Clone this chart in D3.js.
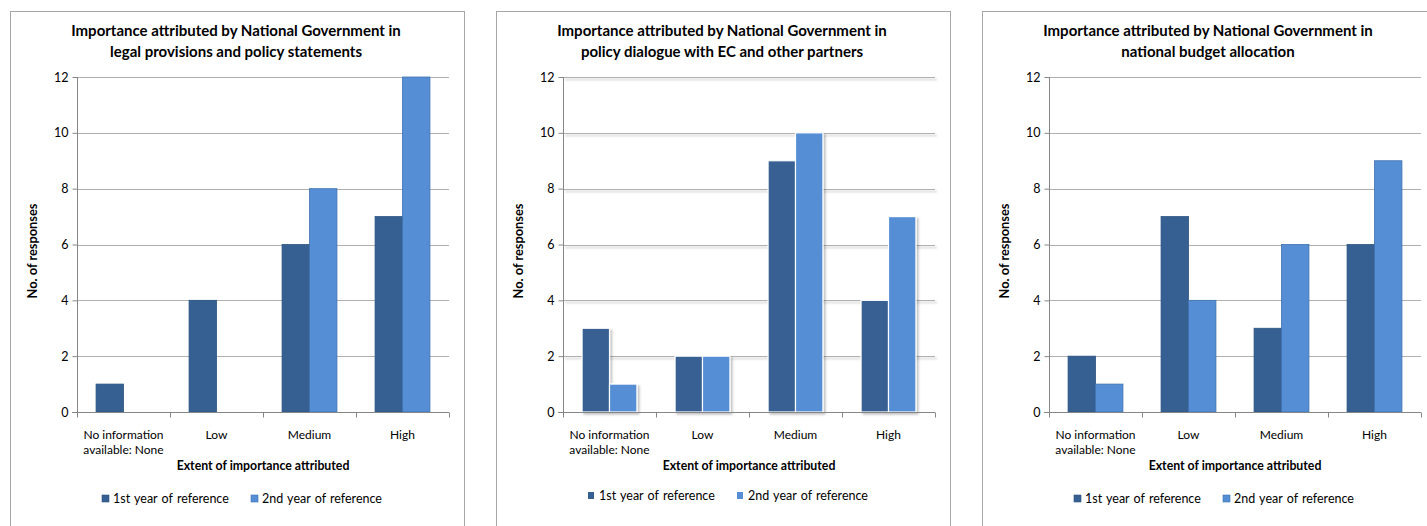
<!DOCTYPE html>
<html><head><meta charset="utf-8">
<script src="https://cdn.jsdelivr.net/npm/d3@7"></script>
<style>body{margin:0;background:#fff;} svg{display:block;font-family:Lato, "Open Sans", sans-serif;}</style>
</head><body>
<svg id="c" width="1427" height="526"></svg>
<script>
const categories = [["No information","available: None"],["Low"],["Medium"],["High"]];
const catKeys = ["No information available: None","Low","Medium","High"];
const seriesNames = ["1st year of reference","2nd year of reference"];
const titles = [
  ["Importance attributed by National Government in","legal provisions and policy statements"],
  ["Importance attributed by National Government in","policy dialogue with EC and other partners"],
  ["Importance attributed by National Government in","national budget allocation"]
];
const legalFirst = [1,4,6,7];
const legalSecond = [0,0,8,12];
const dialogueFirst = [3,2,9,4];
const dialogueSecond = [1,2,10,7];
const budgetFirst = [2,7,3,6];
const budgetSecond = [1,4,6,9];
const yTicks = [0,2,4,6,8,10,12];
const xTitle = "Extent of importance attributed";
const yTitle = "No. of responses";

const panels = [
  {title:titles[0], s:[legalFirst, legalSecond], shadow:false},
  {title:titles[1], s:[dialogueFirst, dialogueSecond], shadow:true},
  {title:titles[2], s:[budgetFirst, budgetSecond], shadow:false}
];
const colors = ["#376092","#558ED5"];
const strokes = ["#2c5482","#3f72b0"];

const svg = d3.select("#c");
const defs = svg.append("defs");
const f = defs.append("filter").attr("id","sh").attr("x","-20%").attr("y","-20%").attr("width","150%").attr("height","150%");
f.append("feDropShadow").attr("dx",2).attr("dy",2).attr("stdDeviation",1.2).attr("flood-color","#000").attr("flood-opacity",0.25);

panels.forEach((p,i)=>{
  const ox = 486*i;
  const g = svg.append("g").attr("transform",`translate(${ox},0)`);
  g.append("rect").attr("x",10.5).attr("y",11.5).attr("width",454).attr("height",530)
    .attr("fill","#fff").attr("stroke","#a6a6a6").attr("stroke-width",1);
  const left = 77, right = 449, top = 77, bottom = 412;
  const x = d3.scaleBand().domain(catKeys).range([left,right]).paddingInner(0.41).paddingOuter(0.205);
  const xs = d3.scaleBand().domain([0,1]).range([0,x.bandwidth()]);
  const y = d3.scaleLinear().domain([0,12]).range([bottom,top]);

  // title
  const t = g.append("text").attr("text-anchor","middle").attr("font-weight","bold").attr("font-size",15).attr("fill","#000");
  p.title.forEach((ln,k)=>t.append("tspan").attr("x",236).attr("y",36+21*k).text(ln));

  // gridlines
  const grid = g.append("g");
  if(p.shadow) grid.attr("filter","url(#sh)");
  grid.selectAll("line").data(yTicks.filter(v=>v>0)).join("line")
    .attr("x1",left).attr("x2",right).attr("y1",d=>Math.round(y(d))+0.5).attr("y2",d=>Math.round(y(d))+0.5)
    .attr("stroke","#b0b0b0").attr("stroke-width",1);

  // bars
  const bars = g.append("g");
  if(p.shadow) bars.attr("filter","url(#sh)");
  p.s.forEach((vals,si)=>{
    bars.selectAll(null).data(vals.map((v,ci)=>({v,c:catKeys[ci]}))).join("rect")
      .attr("x",d=>x(d.c)+xs(si)).attr("width",xs.bandwidth())
      .attr("y",d=>y(d.v)).attr("height",d=>y(0)-y(d.v))
      .attr("fill",colors[si])
      .attr("stroke",p.shadow ? "#ffffff" : strokes[si]).attr("stroke-width",p.shadow?1.2:0.8)
      .style("display",d=>d.v>0?null:"none");
  });

  // y axis
  const ya = g.append("g").attr("transform",`translate(${left+0.5},0)`)
    .call(d3.axisLeft(y).tickValues(yTicks).tickSize(5).tickPadding(4).tickFormat(d3.format("d")));
  ya.selectAll(".domain").attr("stroke","#868686").attr("d",`M0,${top}V${bottom}`);
  ya.selectAll(".tick line").attr("stroke","#868686");
  ya.selectAll(".tick text").attr("font-size",12.5).attr("fill","#000").attr("font-family","Lato, sans-serif");

  // x axis
  const xg = g.append("g").attr("transform",`translate(0,${bottom+0.5})`);
  xg.append("line").attr("x1",left-5).attr("x2",right).attr("stroke","#868686");
  const bounds = [0,1,2,3,4].map(k=>left + k*(right-left)/4);
  xg.selectAll(".tk").data(bounds).join("line").attr("class","tk")
    .attr("x1",d=>Math.round(d)+0.5).attr("x2",d=>Math.round(d)+0.5).attr("y1",0).attr("y2",5).attr("stroke","#868686");
  categories.forEach((lines,ci)=>{
    const tx = xg.append("text").attr("text-anchor","middle").attr("font-size",12).attr("fill","#000");
    lines.forEach((ln,k)=>tx.append("tspan").attr("x",x(catKeys[ci])+x.bandwidth()/2).attr("y",26+15*k).text(ln));
  });

  g.append("text").attr("x",(left+right)/2).attr("y",470).attr("text-anchor","middle")
    .attr("font-weight","bold").attr("font-size",12.3).text(xTitle);
  g.append("text").attr("transform",`translate(37,251) rotate(-90)`).attr("text-anchor","middle")
    .attr("font-weight","bold").attr("font-size",12.8).text(yTitle);

  // legend
  const ly = i===1 ? 496 : 499;
  const lx = [102,251];
  seriesNames.forEach((n,si)=>{
    g.append("rect").attr("x",lx[si]).attr("y",ly-4).attr("width",i===1?6:7).attr("height",7)
      .attr("fill",colors[si]).attr("stroke",i===1?"none":strokes[si]).attr("stroke-width",0.6);
    g.append("text").attr("x",lx[si]+11).attr("y",ly+4).attr("font-size",12.5).attr("word-spacing",1).attr("fill","#000").text(n);
  });
});
</script>
</body></html>
